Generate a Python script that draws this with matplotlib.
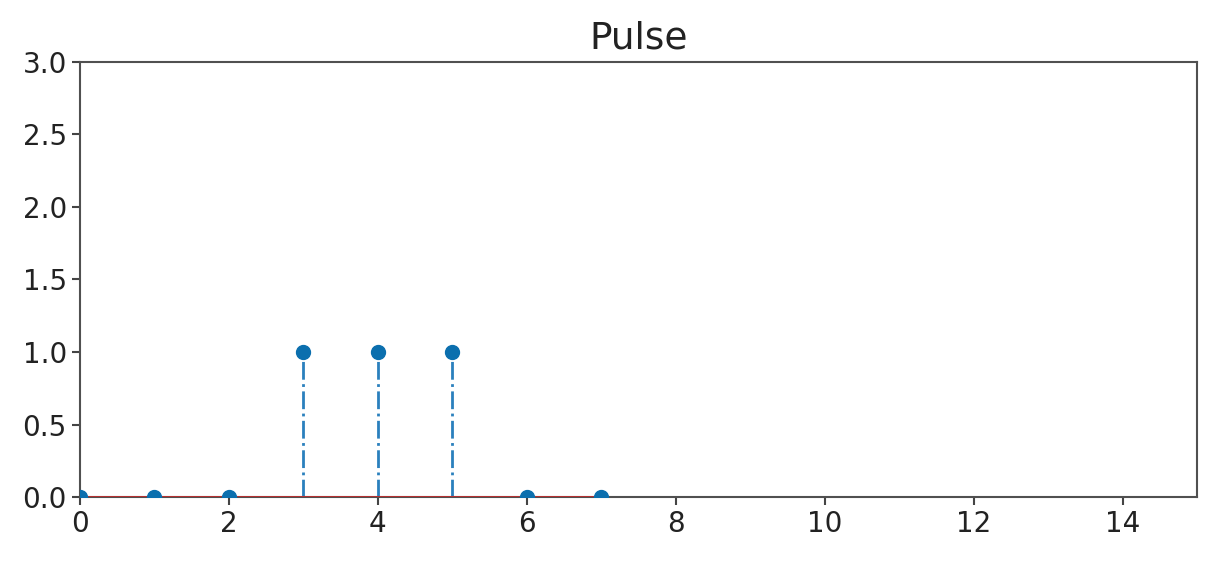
import matplotlib
matplotlib.use("Agg")
import matplotlib.pyplot as plt
import numpy as np

n = [0, 1, 2, 3, 4, 5, 6, 7]
x = [0, 0, 0, 1, 1, 1, 0, 0]
title = "Pulse"

fig = plt.figure(figsize=(12.18, 5.66), dpi=100)
ax = fig.add_axes([0.0657, 0.1219, 0.9171, 0.7686])
markerline, stemlines, baseline = ax.stem(n, x, linefmt='-.', markerfmt='o', basefmt='-')
markerline.set_color('#0b6fae')
markerline.set_markersize(10)
markerline.set_zorder(4)
stemlines.set_color('#2a80bd')
stemlines.set_linewidth(2.0)
baseline.set_color('#d62728')
baseline.set_linewidth(1.8)
baseline.set_zorder(3)

ax.set_xlim(0, 15)
ax.set_ylim(0, 3)
ax.set_yticks(np.arange(0, 3.01, 0.5))
ax.set_xticks(np.arange(0, 15, 2))
ax.tick_params(labelsize=20, length=6, width=1.5, colors='#444444', labelcolor='#222222')
for s in ax.spines.values():
    s.set_color('#505050')
    s.set_linewidth(1.5)
ax.set_title(title, fontsize=27, color='#222222', pad=10)
fig.savefig("out.png", dpi=100)
